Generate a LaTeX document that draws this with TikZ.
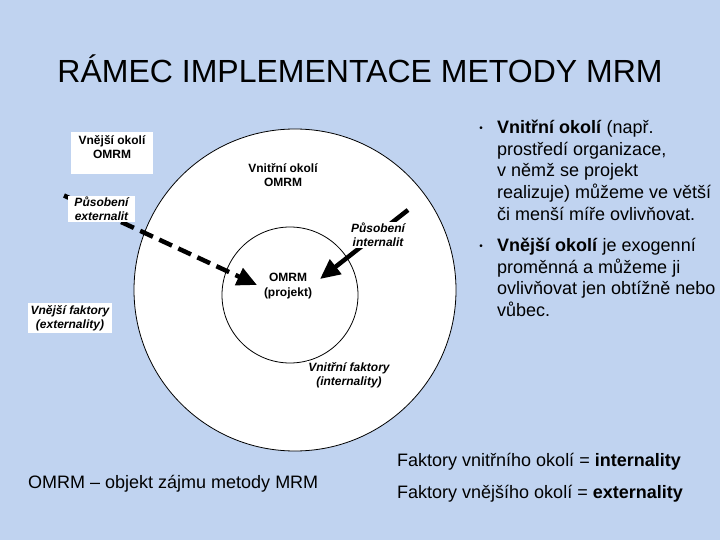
\documentclass[tikz,border=0pt]{standalone}
\usepackage{fontspec}
\setmainfont{Liberation Sans}
\usetikzlibrary{arrows.meta}
\definecolor{bgblue}{RGB}{192,211,240}
\begin{document}
\begin{tikzpicture}[x=1pt,y=-1pt,
  lbl/.style={font=\fontsize{12}{14}\selectfont\bfseries, align=center, inner sep=1.5pt},
  ilbl/.style={lbl, fill=white, font=\fontsize{12}{14}\selectfont\bfseries\itshape},
  bigtxt/.style={font=\fontsize{18}{21.6}\selectfont, inner sep=0pt},
  bul/.style={font=\fontsize{10}{12}\selectfont, inner sep=0pt},
  fatarrow/.style={line width=4.5pt, -{Triangle[length=20pt,width=18pt]}},
]
\fill[bgblue] (0,0) rectangle (720,540);
\useasboundingbox (0,0) rectangle (720,540);

\node[font=\fontsize{32}{36}\selectfont, inner sep=0pt] (title) at (360,69) {RÁMEC IMPLEMENTACE METODY MRM};

% circles
\node[circle, draw, fill=white, line width=0.8pt, minimum size=322pt, inner sep=0pt] (outer) at (295,290) {};
\node[circle, draw, fill=white, line width=0.8pt, minimum size=136pt, inner sep=0pt] (inner) at (290,295) {};

% arrows
\coordinate (extA) at (64,195.5);
\coordinate (extT) at (257,285);
\coordinate (intA) at (408,210);
\coordinate (intT) at (320,279);
\draw[fatarrow, dash pattern=on 14pt off 7pt] (extA) -- (extT);
\draw[fatarrow] (intA) -- (intT);

% labels
\node[fill=white, minimum width=82pt, minimum height=42pt, inner sep=0pt] (vobox) at (112,153) {};
\node[lbl] (vo) at (112,147.5) {Vnější okolí\\OMRM};
\node[ilbl, minimum width=67pt] (pe) at (101.5,209) {Působení\\externalit};
\node[lbl] (vi) at (283,175) {Vnitřní okolí\\OMRM};
\node[ilbl] (pi) at (378,235) {Působení\\internalit};
\node[lbl, font=\fontsize{12}{15}\selectfont\bfseries] (om) at (288,286.5) {OMRM\\(projekt)};
\node[ilbl, minimum width=84pt, minimum height=30pt] (vf) at (70,318) {Vnější faktory\\(externality)};
\node[ilbl] (if) at (349,375) {Vnitřní faktory\\(internality)};

% right bullets
\node[bul] (b1) at (481,129) {•};
\node[bigtxt, anchor=north west, align=left] (t1) at (497,120) {\textbf{Vnitřní okolí} (např.\\prostředí organizace,\\v němž se projekt\\realizuje) můžeme ve větší\\či menší míře ovlivňovat.};
\node[bul] (b2) at (481,247) {•};
\node[bigtxt, anchor=north west, align=left] (t2) at (497,238) {\textbf{Vnější okolí} je exogenní\\proměnná a můžeme ji\\ovlivňovat jen obtížně nebo\\vůbec.};

% bottom texts
\node[bigtxt, anchor=west] (leg) at (28,484) {OMRM – objekt zájmu metody MRM};
\node[bigtxt, anchor=west] (fi) at (397,462) {Faktory vnitřního okolí = \textbf{internality}};
\node[bigtxt, anchor=west] (fe) at (397,494) {Faktory vnějšího okolí = \textbf{externality}};
\end{tikzpicture}
\end{document}
